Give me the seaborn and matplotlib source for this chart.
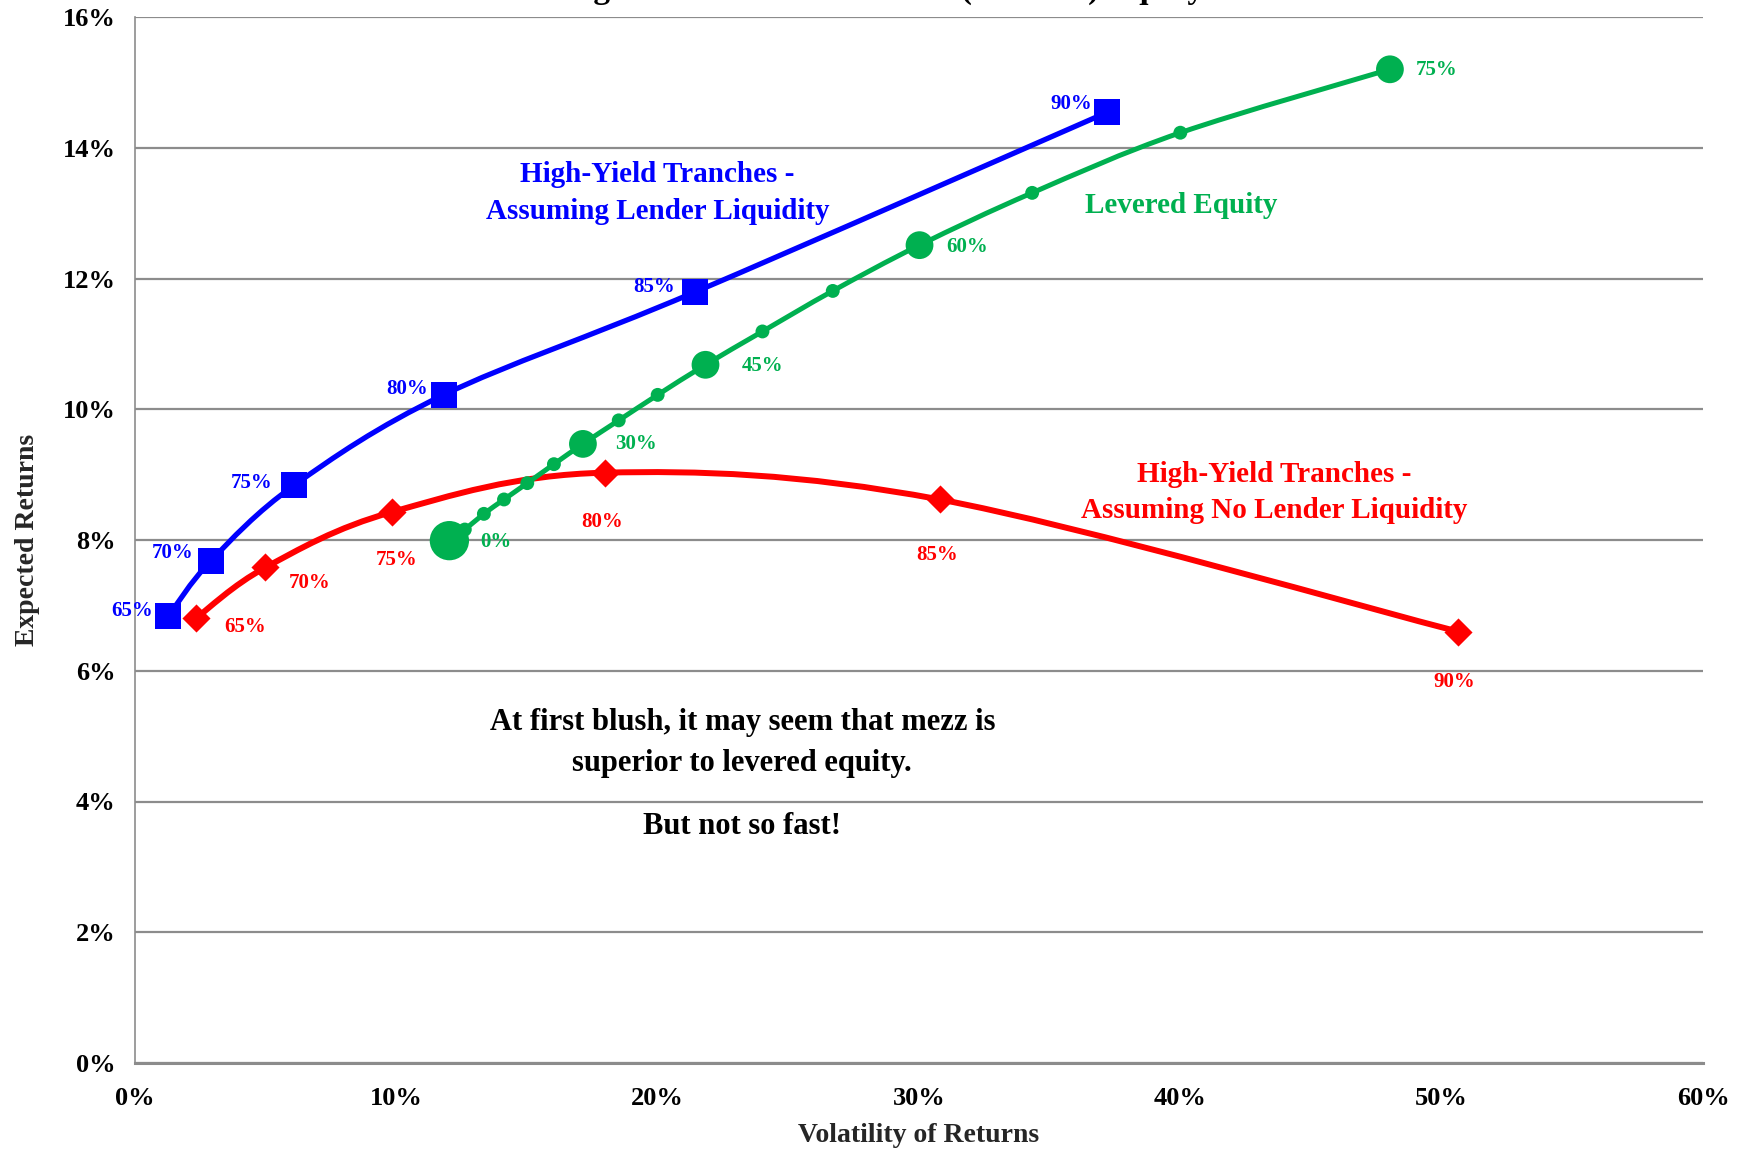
import numpy as np
import pandas as pd
import matplotlib
matplotlib.use("Agg")
import matplotlib.pyplot as plt
from matplotlib.path import Path
from matplotlib.patches import PathPatch
from matplotlib.ticker import PercentFormatter, MultipleLocator
import seaborn as sns

# ---- data (percent units) ----
tranche_labels = ["65%", "70%", "75%", "80%", "85%", "90%"]

lender_vol = [1.28, 2.90, 6.10, 11.81, 21.41, 37.19]
lender_ret = [6.84, 7.68, 8.84, 10.22, 11.79, 14.54]

nolender_vol = [2.35, 4.99, 9.85, 18.00, 30.79, 50.62]
nolender_ret = [6.81, 7.58, 8.43, 9.03, 8.62, 6.60]

leverage = [0, 5, 10, 15, 20, 25, 30, 35, 40, 45, 50, 55, 60, 65, 70, 75]
equity_vol = [12.03, 12.62, 13.35, 14.12, 15.01, 16.03, 17.14, 18.51,
              20.00, 21.83, 24.01, 26.70, 30.02, 34.33, 40.00, 48.02]
equity_ret = [7.99, 8.16, 8.40, 8.62, 8.87, 9.16, 9.47, 9.83,
              10.22, 10.68, 11.19, 11.81, 12.51, 13.31, 14.23, 15.20]
equity_labelled = [0, 30, 45, 60, 75]

x_ticks = [0, 10, 20, 30, 40, 50, 60]
y_ticks = [0, 2, 4, 6, 8, 10, 12, 14, 16]

# ---- styling ----
BLUE = "#0000FF"
RED = "#FF0000"
GREEN = "#00B050"
GRID = "#8c8c8c"

sns.set_theme(style="white")
plt.rcParams["font.family"] = ["Liberation Serif", "DejaVu Serif"]
plt.rcParams["font.weight"] = "bold"

fig = plt.figure(figsize=(17.48, 11.51), dpi=100)
ax = fig.add_axes([135 / 1748, 1 - 1063 / 1151, (1703 - 135) / 1748, (1063 - 17) / 1151])


def smooth_path(xs, ys):
    """Excel-style smoothed line: cubic Bezier segments through every point."""
    pts = np.column_stack([xs, ys]).astype(float)
    ext = np.vstack([pts[0], pts, pts[-1]])
    verts = [pts[0]]
    codes = [Path.MOVETO]
    for i in range(len(pts) - 1):
        p0, p1, p2, p3 = ext[i], ext[i + 1], ext[i + 2], ext[i + 3]
        verts += [p1 + (p2 - p0) / 6, p2 - (p3 - p1) / 6, p2]
        codes += [Path.CURVE4] * 3
    return Path(verts, codes)


def draw_line(xs, ys, color, lw, z):
    ax.add_patch(PathPatch(smooth_path(xs, ys), facecolor="none", edgecolor=color,
                           lw=lw, capstyle="round", joinstyle="round", zorder=z))


# No-lender-liquidity tranches (red diamonds)
nolender = pd.DataFrame({"vol": nolender_vol, "ret": nolender_ret, "label": tranche_labels})
draw_line(nolender_vol, nolender_ret, RED, 4.3, 3)
sns.scatterplot(data=nolender, x="vol", y="ret", marker="D", s=205, color=RED,
                edgecolor=RED, linewidth=0, ax=ax, zorder=4)

# Lender-liquidity tranches (blue squares)
lender = pd.DataFrame({"vol": lender_vol, "ret": lender_ret, "label": tranche_labels})
draw_line(lender_vol, lender_ret, BLUE, 3.8, 5)
sns.scatterplot(data=lender, x="vol", y="ret", marker="s", s=372, color=BLUE,
                edgecolor=BLUE, linewidth=0, ax=ax, zorder=6)

# Levered equity (green circles, larger at labelled leverage levels)
equity = pd.DataFrame({"vol": equity_vol, "ret": equity_ret, "lev": leverage})
equity["kind"] = np.where(equity["lev"] == 0, "base",
                          np.where(equity["lev"].isin(equity_labelled), "major", "minor"))
draw_line(equity_vol, equity_ret, GREEN, 3.6, 7)
sns.scatterplot(data=equity, x="vol", y="ret", size="kind",
                sizes={"base": 800, "major": 400, "minor": 100},
                marker="o", color=GREEN, edgecolor=GREEN, linewidth=0,
                legend=False, ax=ax, zorder=8)

# ---- point labels ----
lab_fs = 15
blue_off = [(-26.5, 3.2), (-27.3, 5.6), (-30.5, 1.6), (-26.5, 4), (-29, 4), (-25.7, 6.4)]
for x, y, t, off in zip(lender_vol, lender_ret, tranche_labels, blue_off):
    ax.annotate(t, (x, y), xytext=off, textcoords="offset points", ha="center",
                va="center", color=BLUE, fontsize=lab_fs, fontweight="bold", zorder=10)

red_off = [(35.3, -6.4), (32, -11.2), (3.2, -34.5), (-2.4, -35.3), (-1.6, -40), (-2.4, -36)]
for x, y, t, off in zip(nolender_vol, nolender_ret, tranche_labels, red_off):
    ax.annotate(t, (x, y), xytext=off, textcoords="offset points", ha="center",
                va="center", color=RED, fontsize=lab_fs, fontweight="bold", zorder=10)

green_off = [(33.7, -0.8), (38.5, 0), (41, -0.8), (34.5, -1.6), (33.7, -0.8)]
lab_rows = equity[equity["lev"].isin(equity_labelled)]
for (x, y, lev), off in zip(lab_rows[["vol", "ret", "lev"]].values, green_off):
    ax.annotate(f"{int(lev)}%", (x, y), xytext=off, textcoords="offset points",
                ha="center", va="center", color=GREEN, fontsize=lab_fs,
                fontweight="bold", zorder=10)

# ---- series captions and commentary ----
cap_fs = 21
ax.text(20.0, 13.31, "High-Yield Tranches -\nAssuming Lender Liquidity", color=BLUE,
        fontsize=cap_fs, fontweight="bold", ha="center", va="center", linespacing=1.45)
ax.text(40.04, 13.12, "Levered Equity", color=GREEN, fontsize=cap_fs,
        fontweight="bold", ha="center", va="center")
ax.text(43.58, 8.73, "High-Yield Tranches -\nAssuming No Lender Liquidity", color=RED,
        fontsize=cap_fs, fontweight="bold", ha="center", va="center", linespacing=1.45)
ax.text(23.24, 4.90, "At first blush, it may seem that mezz is\nsuperior to levered equity.",
        color="black", fontsize=22, fontweight="bold", ha="center", va="center",
        linespacing=1.55)
ax.text(23.24, 3.62, "But not so fast!", color="black", fontsize=22,
        fontweight="bold", ha="center", va="center")

# ---- axes ----
ax.set_xlim(0, 60)
ax.set_ylim(0, 16)
ax.xaxis.set_major_locator(MultipleLocator(10))
ax.yaxis.set_major_locator(MultipleLocator(2))
ax.set_xticks(x_ticks)
ax.set_yticks(y_ticks)
ax.xaxis.set_major_formatter(PercentFormatter(100, decimals=0))
ax.yaxis.set_major_formatter(PercentFormatter(100, decimals=0))
ax.yaxis.grid(True, color=GRID, lw=1.6)
ax.xaxis.grid(False)
ax.set_axisbelow(True)
for side in ("top", "right"):
    ax.spines[side].set_visible(False)
ax.spines["left"].set_color(GRID)
ax.spines["left"].set_linewidth(1.2)
ax.spines["bottom"].set_color(GRID)
ax.spines["bottom"].set_linewidth(2.2)
ax.tick_params(axis="both", direction="out", length=5, width=1.2, color=GRID,
               labelsize=19, labelcolor="black")
ax.tick_params(axis="x", pad=12)
ax.tick_params(axis="y", pad=9)
for lbl in ax.get_xticklabels() + ax.get_yticklabels():
    lbl.set_fontweight("bold")

ax.set_xlabel("Volatility of Returns", fontsize=20, fontweight="bold", labelpad=10)
ax.set_ylabel("Expected Returns", fontsize=20, fontweight="bold", labelpad=16)

fig.text(276 / 1748, 1 + 2 / 1151,
         "Risk and Return of High-Yield Tranches versus (Levered) Equity",
         ha="left", va="baseline", fontsize=24, fontweight="bold", color="black")

fig.savefig("out.png", dpi=100)
